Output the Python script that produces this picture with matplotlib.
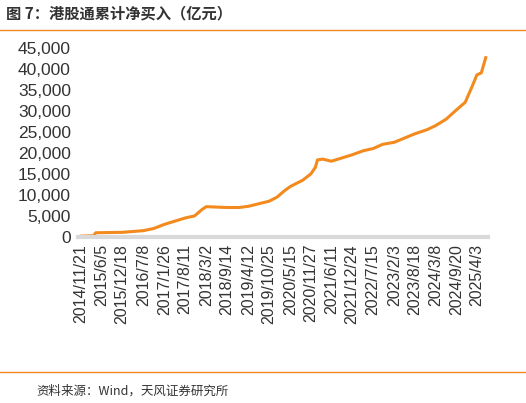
import numpy as np
import pandas as pd
import matplotlib
matplotlib.use("Agg")
import matplotlib.pyplot as plt
from matplotlib.lines import Line2D

plt.rcParams['font.family'] = ['Noto Sans CJK SC', 'DejaVu Sans']

dates = ["2014-11-21", "2015-03-20", "2015-04-10", "2015-12-18", "2016-07-08", "2016-10-14",
         "2017-01-26", "2017-08-11", "2017-11-10", "2018-01-19", "2018-03-02", "2018-09-14",
         "2019-01-11", "2019-04-12", "2019-10-25", "2020-01-10", "2020-03-20", "2020-05-15",
         "2020-09-11", "2020-11-27", "2021-01-08", "2021-01-29", "2021-03-19", "2021-06-11",
         "2021-12-24", "2022-04-15", "2022-07-15", "2022-10-14", "2023-02-03", "2023-05-12",
         "2023-08-18", "2023-12-15", "2024-03-08", "2024-06-14", "2024-09-20", "2024-12-13",
         "2025-02-21", "2025-04-03", "2025-05-16", "2025-06-27"]
values = [200, 300, 1000, 1100, 1500, 2000,
          3000, 4500, 5000, 6500, 7200, 7000,
          7000, 7300, 8500, 9500, 11000, 12000,
          13500, 15000, 16500, 18300, 18500, 18000,
          19500, 20500, 21000, 22000, 22500, 23500,
          24500, 25500, 26500, 28000, 30200, 32000,
          36000, 38500, 39000, 42600]
tick_labels = ["2014/11/21", "2015/6/5", "2015/12/18", "2016/7/8", "2017/1/26", "2017/8/11",
               "2018/3/2", "2018/9/14", "2019/4/12", "2019/10/25", "2020/5/15", "2020/11/27",
               "2021/6/11", "2021/12/24", "2022/7/15", "2023/2/3", "2023/8/18", "2024/3/8",
               "2024/9/20", "2025/4/3"]

x = pd.to_datetime(dates)
ticks = pd.to_datetime(tick_labels, format="%Y/%m/%d")
orange = "#F28A1E"

fig = plt.figure(figsize=(5.26, 4.03), dpi=100)
ax = fig.add_axes([0.148, 0.412, 0.78, 0.47])
ax.plot(x, values, color=orange, lw=2.2)
ax.set_ylim(0, 45000)
ax.set_yticks(range(0, 45001, 5000))
ax.set_yticklabels([f"{v:,}" for v in range(0, 45001, 5000)], fontsize=12.5,
                   color="#333333", family="Liberation Sans")
ax.set_xticks(ticks)
ax.set_xticklabels(tick_labels, rotation=90, fontsize=11.5, color="#333333",
                   family="Liberation Sans")
ax.set_xlim(pd.Timestamp("2014-10-20"), pd.Timestamp("2025-07-20"))
ax.tick_params(length=0, pad=5)
for s in ["top", "right", "left"]:
    ax.spines[s].set_visible(False)
ax.spines["bottom"].set_color("#d9d9d9")
ax.spines["bottom"].set_linewidth(3)

fig.text(0.012, 0.955, "图 7：港股通累计净买入（亿元）", fontsize=11, fontweight="bold", color="#333333")
fig.add_artist(Line2D([0.0, 1.0], [0.925, 0.925], color=orange, lw=1))
fig.add_artist(Line2D([0.0, 1.0], [0.077, 0.077], color=orange, lw=1))
fig.text(0.07, 0.02, "资料来源：Wind，天风证券研究所", fontsize=9, color="#333333")

fig.savefig("out.png", dpi=100)
